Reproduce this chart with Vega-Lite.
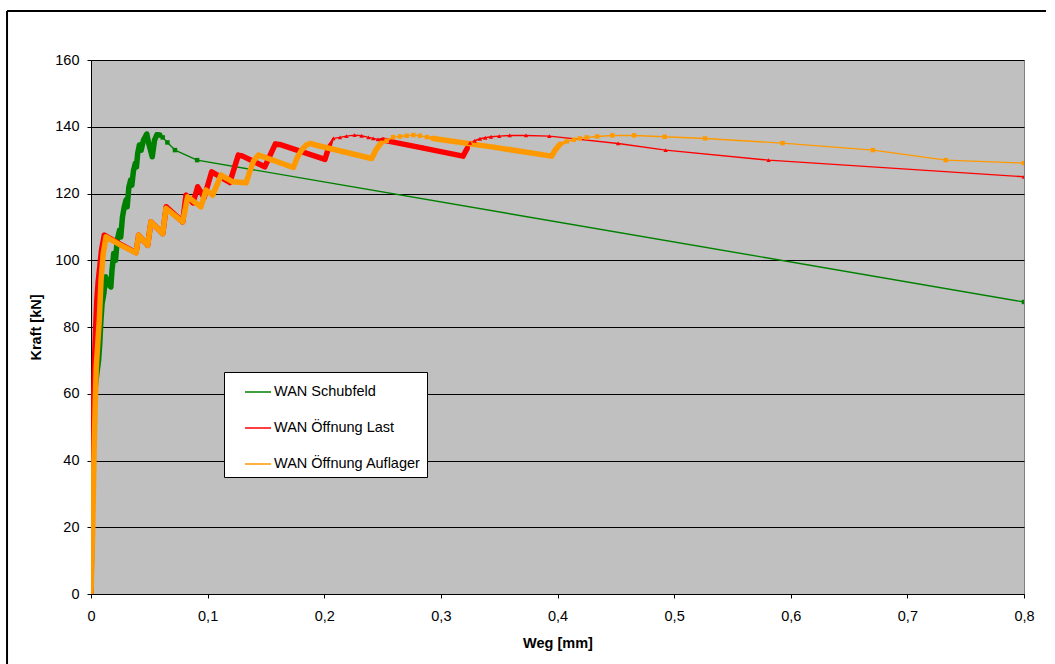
{
  "$schema": "https://vega.github.io/schema/vega-lite/v6.json",
  "width": 933,
  "height": 534,
  "autosize": {"type": "none"},
  "padding": {"left": 91, "top": 60, "right": 31, "bottom": 70},
  "background": "white",
  "config": {
    "font": "Liberation Sans",
    "view": {"fill": "#C0C0C0", "stroke": "#808080", "strokeWidth": 1},
    "axis": {
      "labelFontSize": 14.5,
      "labelColor": "black",
      "labelFlush": false,
      "titleFontSize": 14.5,
      "titleFontWeight": "bold",
      "titleColor": "black",
      "domainColor": "black",
      "domainWidth": 1,
      "tickColor": "black",
      "tickSize": 4,
      "tickWidth": 1
    }
  },
  "datasets": {
    "kurven": [
      {"Reihe": "WAN Schubfeld", "i": 1, "Weg": 0, "Kraft": 0, "dicht": 1},
      {"Reihe": "WAN Schubfeld", "i": 2, "Weg": 0.001, "Kraft": 30, "dicht": 1},
      {"Reihe": "WAN Schubfeld", "i": 3, "Weg": 0.002, "Kraft": 50, "dicht": 1},
      {"Reihe": "WAN Schubfeld", "i": 4, "Weg": 0.003, "Kraft": 60, "dicht": 1},
      {"Reihe": "WAN Schubfeld", "i": 5, "Weg": 0.005, "Kraft": 66, "dicht": 1},
      {"Reihe": "WAN Schubfeld", "i": 6, "Weg": 0.0065, "Kraft": 70, "dicht": 1},
      {"Reihe": "WAN Schubfeld", "i": 7, "Weg": 0.0075, "Kraft": 75, "dicht": 1},
      {"Reihe": "WAN Schubfeld", "i": 8, "Weg": 0.0085, "Kraft": 82, "dicht": 1},
      {"Reihe": "WAN Schubfeld", "i": 9, "Weg": 0.0095, "Kraft": 87, "dicht": 1},
      {"Reihe": "WAN Schubfeld", "i": 10, "Weg": 0.011, "Kraft": 90, "dicht": 1},
      {"Reihe": "WAN Schubfeld", "i": 11, "Weg": 0.0125, "Kraft": 95, "dicht": 1},
      {"Reihe": "WAN Schubfeld", "i": 12, "Weg": 0.0145, "Kraft": 93, "dicht": 1},
      {"Reihe": "WAN Schubfeld", "i": 13, "Weg": 0.017, "Kraft": 92, "dicht": 1},
      {"Reihe": "WAN Schubfeld", "i": 14, "Weg": 0.018, "Kraft": 97, "dicht": 1},
      {"Reihe": "WAN Schubfeld", "i": 15, "Weg": 0.0195, "Kraft": 102, "dicht": 1},
      {"Reihe": "WAN Schubfeld", "i": 16, "Weg": 0.021, "Kraft": 100, "dicht": 1},
      {"Reihe": "WAN Schubfeld", "i": 17, "Weg": 0.0225, "Kraft": 106, "dicht": 1},
      {"Reihe": "WAN Schubfeld", "i": 18, "Weg": 0.0245, "Kraft": 109, "dicht": 1},
      {"Reihe": "WAN Schubfeld", "i": 19, "Weg": 0.0255, "Kraft": 107, "dicht": 1},
      {"Reihe": "WAN Schubfeld", "i": 20, "Weg": 0.027, "Kraft": 113, "dicht": 1},
      {"Reihe": "WAN Schubfeld", "i": 21, "Weg": 0.0285, "Kraft": 116, "dicht": 1},
      {"Reihe": "WAN Schubfeld", "i": 22, "Weg": 0.03, "Kraft": 118, "dicht": 1},
      {"Reihe": "WAN Schubfeld", "i": 23, "Weg": 0.031, "Kraft": 116, "dicht": 1},
      {"Reihe": "WAN Schubfeld", "i": 24, "Weg": 0.0325, "Kraft": 122, "dicht": 1},
      {"Reihe": "WAN Schubfeld", "i": 25, "Weg": 0.034, "Kraft": 124, "dicht": 1},
      {"Reihe": "WAN Schubfeld", "i": 26, "Weg": 0.035, "Kraft": 122.5, "dicht": 1},
      {"Reihe": "WAN Schubfeld", "i": 27, "Weg": 0.0365, "Kraft": 127, "dicht": 1},
      {"Reihe": "WAN Schubfeld", "i": 28, "Weg": 0.038, "Kraft": 129, "dicht": 1},
      {"Reihe": "WAN Schubfeld", "i": 29, "Weg": 0.039, "Kraft": 128, "dicht": 1},
      {"Reihe": "WAN Schubfeld", "i": 30, "Weg": 0.04, "Kraft": 132, "dicht": 1},
      {"Reihe": "WAN Schubfeld", "i": 31, "Weg": 0.0415, "Kraft": 134.5, "dicht": 1},
      {"Reihe": "WAN Schubfeld", "i": 32, "Weg": 0.043, "Kraft": 133, "dicht": 1},
      {"Reihe": "WAN Schubfeld", "i": 33, "Weg": 0.045, "Kraft": 136, "dicht": 1},
      {"Reihe": "WAN Schubfeld", "i": 34, "Weg": 0.0478, "Kraft": 137.8, "dicht": 1},
      {"Reihe": "WAN Schubfeld", "i": 35, "Weg": 0.0495, "Kraft": 135, "dicht": 1},
      {"Reihe": "WAN Schubfeld", "i": 36, "Weg": 0.051, "Kraft": 133, "dicht": 1},
      {"Reihe": "WAN Schubfeld", "i": 37, "Weg": 0.0525, "Kraft": 131, "dicht": 1},
      {"Reihe": "WAN Schubfeld", "i": 38, "Weg": 0.0545, "Kraft": 136, "dicht": 1},
      {"Reihe": "WAN Schubfeld", "i": 39, "Weg": 0.0565, "Kraft": 137.6, "dicht": 1},
      {"Reihe": "WAN Schubfeld", "i": 40, "Weg": 0.059, "Kraft": 137.5, "dicht": 1},
      {"Reihe": "WAN Schubfeld", "i": 41, "Weg": 0.0615, "Kraft": 136.8, "dicht": 0},
      {"Reihe": "WAN Schubfeld", "i": 42, "Weg": 0.0655, "Kraft": 135.3, "dicht": 0},
      {"Reihe": "WAN Schubfeld", "i": 43, "Weg": 0.072, "Kraft": 133, "dicht": 0},
      {"Reihe": "WAN Schubfeld", "i": 44, "Weg": 0.091, "Kraft": 130, "dicht": 0},
      {"Reihe": "WAN Schubfeld", "i": 45, "Weg": 0.8, "Kraft": 87.5, "dicht": 0},

      {"Reihe": "WAN Öffnung Last", "i": 101, "Weg": 0, "Kraft": 0, "dicht": 1},
      {"Reihe": "WAN Öffnung Last", "i": 102, "Weg": 0.001, "Kraft": 35, "dicht": 1},
      {"Reihe": "WAN Öffnung Last", "i": 103, "Weg": 0.002, "Kraft": 55, "dicht": 1},
      {"Reihe": "WAN Öffnung Last", "i": 104, "Weg": 0.003, "Kraft": 70, "dicht": 1},
      {"Reihe": "WAN Öffnung Last", "i": 105, "Weg": 0.004, "Kraft": 80, "dicht": 1},
      {"Reihe": "WAN Öffnung Last", "i": 106, "Weg": 0.005, "Kraft": 88, "dicht": 1},
      {"Reihe": "WAN Öffnung Last", "i": 107, "Weg": 0.006, "Kraft": 93, "dicht": 1},
      {"Reihe": "WAN Öffnung Last", "i": 108, "Weg": 0.0075, "Kraft": 98, "dicht": 1},
      {"Reihe": "WAN Öffnung Last", "i": 109, "Weg": 0.009, "Kraft": 103, "dicht": 1},
      {"Reihe": "WAN Öffnung Last", "i": 110, "Weg": 0.0114, "Kraft": 107.5, "dicht": 1},
      {"Reihe": "WAN Öffnung Last", "i": 111, "Weg": 0.025, "Kraft": 104.8, "dicht": 1},
      {"Reihe": "WAN Öffnung Last", "i": 112, "Weg": 0.0386, "Kraft": 102.3, "dicht": 1},
      {"Reihe": "WAN Öffnung Last", "i": 113, "Weg": 0.0409, "Kraft": 107.5, "dicht": 1},
      {"Reihe": "WAN Öffnung Last", "i": 114, "Weg": 0.0486, "Kraft": 104.5, "dicht": 1},
      {"Reihe": "WAN Öffnung Last", "i": 115, "Weg": 0.0514, "Kraft": 111.5, "dicht": 1},
      {"Reihe": "WAN Öffnung Last", "i": 116, "Weg": 0.0615, "Kraft": 108, "dicht": 1},
      {"Reihe": "WAN Öffnung Last", "i": 117, "Weg": 0.0645, "Kraft": 116, "dicht": 1},
      {"Reihe": "WAN Öffnung Last", "i": 118, "Weg": 0.0786, "Kraft": 111.5, "dicht": 1},
      {"Reihe": "WAN Öffnung Last", "i": 119, "Weg": 0.0815, "Kraft": 119.5, "dicht": 1},
      {"Reihe": "WAN Öffnung Last", "i": 120, "Weg": 0.0875, "Kraft": 117.2, "dicht": 1},
      {"Reihe": "WAN Öffnung Last", "i": 121, "Weg": 0.0915, "Kraft": 122, "dicht": 1},
      {"Reihe": "WAN Öffnung Last", "i": 122, "Weg": 0.097, "Kraft": 118.8, "dicht": 1},
      {"Reihe": "WAN Öffnung Last", "i": 123, "Weg": 0.1035, "Kraft": 126.5, "dicht": 1},
      {"Reihe": "WAN Öffnung Last", "i": 124, "Weg": 0.119, "Kraft": 123.3, "dicht": 1},
      {"Reihe": "WAN Öffnung Last", "i": 125, "Weg": 0.1263, "Kraft": 131.5, "dicht": 1},
      {"Reihe": "WAN Öffnung Last", "i": 126, "Weg": 0.13, "Kraft": 131.2, "dicht": 1},
      {"Reihe": "WAN Öffnung Last", "i": 127, "Weg": 0.149, "Kraft": 128, "dicht": 1},
      {"Reihe": "WAN Öffnung Last", "i": 128, "Weg": 0.158, "Kraft": 134.8, "dicht": 1},
      {"Reihe": "WAN Öffnung Last", "i": 129, "Weg": 0.163, "Kraft": 134.6, "dicht": 1},
      {"Reihe": "WAN Öffnung Last", "i": 130, "Weg": 0.2006, "Kraft": 130.2, "dicht": 1},
      {"Reihe": "WAN Öffnung Last", "i": 131, "Weg": 0.2035, "Kraft": 133.5, "dicht": 1},
      {"Reihe": "WAN Öffnung Last", "i": 132, "Weg": 0.2078, "Kraft": 136.5, "dicht": 0},
      {"Reihe": "WAN Öffnung Last", "i": 133, "Weg": 0.2135, "Kraft": 136.8, "dicht": 0},
      {"Reihe": "WAN Öffnung Last", "i": 134, "Weg": 0.219, "Kraft": 137.2, "dicht": 0},
      {"Reihe": "WAN Öffnung Last", "i": 135, "Weg": 0.226, "Kraft": 137.5, "dicht": 0},
      {"Reihe": "WAN Öffnung Last", "i": 136, "Weg": 0.232, "Kraft": 137.3, "dicht": 0},
      {"Reihe": "WAN Öffnung Last", "i": 137, "Weg": 0.238, "Kraft": 136.8, "dicht": 0},
      {"Reihe": "WAN Öffnung Last", "i": 138, "Weg": 0.242, "Kraft": 136.5, "dicht": 0},
      {"Reihe": "WAN Öffnung Last", "i": 139, "Weg": 0.246, "Kraft": 136.2, "dicht": 0},
      {"Reihe": "WAN Öffnung Last", "i": 140, "Weg": 0.2506, "Kraft": 136, "dicht": 1},
      {"Reihe": "WAN Öffnung Last", "i": 141, "Weg": 0.285, "Kraft": 133.6, "dicht": 1},
      {"Reihe": "WAN Öffnung Last", "i": 142, "Weg": 0.319, "Kraft": 131.2, "dicht": 1},
      {"Reihe": "WAN Öffnung Last", "i": 143, "Weg": 0.3225, "Kraft": 133.5, "dicht": 1},
      {"Reihe": "WAN Öffnung Last", "i": 144, "Weg": 0.325, "Kraft": 135.2, "dicht": 0},
      {"Reihe": "WAN Öffnung Last", "i": 145, "Weg": 0.329, "Kraft": 135.8, "dicht": 0},
      {"Reihe": "WAN Öffnung Last", "i": 146, "Weg": 0.3335, "Kraft": 136.4, "dicht": 0},
      {"Reihe": "WAN Öffnung Last", "i": 147, "Weg": 0.338, "Kraft": 136.7, "dicht": 0},
      {"Reihe": "WAN Öffnung Last", "i": 148, "Weg": 0.343, "Kraft": 137, "dicht": 0},
      {"Reihe": "WAN Öffnung Last", "i": 149, "Weg": 0.35, "Kraft": 137.2, "dicht": 0},
      {"Reihe": "WAN Öffnung Last", "i": 150, "Weg": 0.359, "Kraft": 137.4, "dicht": 0},
      {"Reihe": "WAN Öffnung Last", "i": 151, "Weg": 0.373, "Kraft": 137.4, "dicht": 0},
      {"Reihe": "WAN Öffnung Last", "i": 152, "Weg": 0.393, "Kraft": 137.2, "dicht": 0},
      {"Reihe": "WAN Öffnung Last", "i": 153, "Weg": 0.452, "Kraft": 135, "dicht": 0},
      {"Reihe": "WAN Öffnung Last", "i": 154, "Weg": 0.4927, "Kraft": 133, "dicht": 0},
      {"Reihe": "WAN Öffnung Last", "i": 155, "Weg": 0.581, "Kraft": 130, "dicht": 0},
      {"Reihe": "WAN Öffnung Last", "i": 156, "Weg": 0.8, "Kraft": 125, "dicht": 0},

      {"Reihe": "WAN Öffnung Auflager", "i": 201, "Weg": 0, "Kraft": 0, "dicht": 1},
      {"Reihe": "WAN Öffnung Auflager", "i": 202, "Weg": 0.0015, "Kraft": 20, "dicht": 1},
      {"Reihe": "WAN Öffnung Auflager", "i": 203, "Weg": 0.0025, "Kraft": 40, "dicht": 1},
      {"Reihe": "WAN Öffnung Auflager", "i": 204, "Weg": 0.0035, "Kraft": 55, "dicht": 1},
      {"Reihe": "WAN Öffnung Auflager", "i": 205, "Weg": 0.0045, "Kraft": 68, "dicht": 1},
      {"Reihe": "WAN Öffnung Auflager", "i": 206, "Weg": 0.0071, "Kraft": 82, "dicht": 1},
      {"Reihe": "WAN Öffnung Auflager", "i": 207, "Weg": 0.0086, "Kraft": 94, "dicht": 1},
      {"Reihe": "WAN Öffnung Auflager", "i": 208, "Weg": 0.0105, "Kraft": 102, "dicht": 1},
      {"Reihe": "WAN Öffnung Auflager", "i": 209, "Weg": 0.0129, "Kraft": 107, "dicht": 1},
      {"Reihe": "WAN Öffnung Auflager", "i": 210, "Weg": 0.025, "Kraft": 104.6, "dicht": 1},
      {"Reihe": "WAN Öffnung Auflager", "i": 211, "Weg": 0.0386, "Kraft": 102.2, "dicht": 1},
      {"Reihe": "WAN Öffnung Auflager", "i": 212, "Weg": 0.0409, "Kraft": 107.5, "dicht": 1},
      {"Reihe": "WAN Öffnung Auflager", "i": 213, "Weg": 0.0486, "Kraft": 104.5, "dicht": 1},
      {"Reihe": "WAN Öffnung Auflager", "i": 214, "Weg": 0.0514, "Kraft": 111.5, "dicht": 1},
      {"Reihe": "WAN Öffnung Auflager", "i": 215, "Weg": 0.0615, "Kraft": 108, "dicht": 1},
      {"Reihe": "WAN Öffnung Auflager", "i": 216, "Weg": 0.0643, "Kraft": 115.5, "dicht": 1},
      {"Reihe": "WAN Öffnung Auflager", "i": 217, "Weg": 0.0786, "Kraft": 111.5, "dicht": 1},
      {"Reihe": "WAN Öffnung Auflager", "i": 218, "Weg": 0.0829, "Kraft": 119, "dicht": 1},
      {"Reihe": "WAN Öffnung Auflager", "i": 219, "Weg": 0.0943, "Kraft": 116, "dicht": 1},
      {"Reihe": "WAN Öffnung Auflager", "i": 220, "Weg": 0.0986, "Kraft": 121, "dicht": 1},
      {"Reihe": "WAN Öffnung Auflager", "i": 221, "Weg": 0.1043, "Kraft": 119.5, "dicht": 1},
      {"Reihe": "WAN Öffnung Auflager", "i": 222, "Weg": 0.1115, "Kraft": 125.5, "dicht": 1},
      {"Reihe": "WAN Öffnung Auflager", "i": 223, "Weg": 0.1215, "Kraft": 123.5, "dicht": 1},
      {"Reihe": "WAN Öffnung Auflager", "i": 224, "Weg": 0.133, "Kraft": 123.2, "dicht": 1},
      {"Reihe": "WAN Öffnung Auflager", "i": 225, "Weg": 0.136, "Kraft": 126.5, "dicht": 1},
      {"Reihe": "WAN Öffnung Auflager", "i": 226, "Weg": 0.1395, "Kraft": 129.8, "dicht": 1},
      {"Reihe": "WAN Öffnung Auflager", "i": 227, "Weg": 0.1435, "Kraft": 131.5, "dicht": 1},
      {"Reihe": "WAN Öffnung Auflager", "i": 228, "Weg": 0.148, "Kraft": 131, "dicht": 1},
      {"Reihe": "WAN Öffnung Auflager", "i": 229, "Weg": 0.1735, "Kraft": 127.8, "dicht": 1},
      {"Reihe": "WAN Öffnung Auflager", "i": 230, "Weg": 0.1765, "Kraft": 130.5, "dicht": 1},
      {"Reihe": "WAN Öffnung Auflager", "i": 231, "Weg": 0.1805, "Kraft": 133, "dicht": 1},
      {"Reihe": "WAN Öffnung Auflager", "i": 232, "Weg": 0.1845, "Kraft": 134.5, "dicht": 1},
      {"Reihe": "WAN Öffnung Auflager", "i": 233, "Weg": 0.1878, "Kraft": 135, "dicht": 1},
      {"Reihe": "WAN Öffnung Auflager", "i": 234, "Weg": 0.195, "Kraft": 134.3, "dicht": 1},
      {"Reihe": "WAN Öffnung Auflager", "i": 235, "Weg": 0.2407, "Kraft": 130.5, "dicht": 1},
      {"Reihe": "WAN Öffnung Auflager", "i": 236, "Weg": 0.2445, "Kraft": 133.2, "dicht": 1},
      {"Reihe": "WAN Öffnung Auflager", "i": 237, "Weg": 0.2485, "Kraft": 135, "dicht": 1},
      {"Reihe": "WAN Öffnung Auflager", "i": 238, "Weg": 0.2535, "Kraft": 135.8, "dicht": 0},
      {"Reihe": "WAN Öffnung Auflager", "i": 239, "Weg": 0.259, "Kraft": 136.9, "dicht": 0},
      {"Reihe": "WAN Öffnung Auflager", "i": 240, "Weg": 0.265, "Kraft": 137.1, "dicht": 0},
      {"Reihe": "WAN Öffnung Auflager", "i": 241, "Weg": 0.2707, "Kraft": 137.3, "dicht": 0},
      {"Reihe": "WAN Öffnung Auflager", "i": 242, "Weg": 0.2764, "Kraft": 137.5, "dicht": 0},
      {"Reihe": "WAN Öffnung Auflager", "i": 243, "Weg": 0.282, "Kraft": 137.3, "dicht": 0},
      {"Reihe": "WAN Öffnung Auflager", "i": 244, "Weg": 0.288, "Kraft": 136.9, "dicht": 0},
      {"Reihe": "WAN Öffnung Auflager", "i": 245, "Weg": 0.2935, "Kraft": 136.5, "dicht": 1},
      {"Reihe": "WAN Öffnung Auflager", "i": 246, "Weg": 0.345, "Kraft": 133.9, "dicht": 1},
      {"Reihe": "WAN Öffnung Auflager", "i": 247, "Weg": 0.395, "Kraft": 131.2, "dicht": 1},
      {"Reihe": "WAN Öffnung Auflager", "i": 248, "Weg": 0.398, "Kraft": 133, "dicht": 1},
      {"Reihe": "WAN Öffnung Auflager", "i": 249, "Weg": 0.402, "Kraft": 134.7, "dicht": 1},
      {"Reihe": "WAN Öffnung Auflager", "i": 250, "Weg": 0.408, "Kraft": 135.6, "dicht": 0},
      {"Reihe": "WAN Öffnung Auflager", "i": 251, "Weg": 0.414, "Kraft": 136.1, "dicht": 0},
      {"Reihe": "WAN Öffnung Auflager", "i": 252, "Weg": 0.419, "Kraft": 136.5, "dicht": 0},
      {"Reihe": "WAN Öffnung Auflager", "i": 253, "Weg": 0.425, "Kraft": 136.8, "dicht": 0},
      {"Reihe": "WAN Öffnung Auflager", "i": 254, "Weg": 0.434, "Kraft": 137.1, "dicht": 0},
      {"Reihe": "WAN Öffnung Auflager", "i": 255, "Weg": 0.447, "Kraft": 137.4, "dicht": 0},
      {"Reihe": "WAN Öffnung Auflager", "i": 256, "Weg": 0.4656, "Kraft": 137.4, "dicht": 0},
      {"Reihe": "WAN Öffnung Auflager", "i": 257, "Weg": 0.492, "Kraft": 137, "dicht": 0},
      {"Reihe": "WAN Öffnung Auflager", "i": 258, "Weg": 0.5265, "Kraft": 136.5, "dicht": 0},
      {"Reihe": "WAN Öffnung Auflager", "i": 259, "Weg": 0.593, "Kraft": 135.1, "dicht": 0},
      {"Reihe": "WAN Öffnung Auflager", "i": 260, "Weg": 0.6705, "Kraft": 133, "dicht": 0},
      {"Reihe": "WAN Öffnung Auflager", "i": 261, "Weg": 0.733, "Kraft": 130, "dicht": 0},
      {"Reihe": "WAN Öffnung Auflager", "i": 262, "Weg": 0.8, "Kraft": 129.1, "dicht": 0}
    ]
  },
  "layer": [
    {
      "data": {"name": "kurven"},
      "mark": {"type": "trail", "clip": true},
      "encoding": {
        "x": {
          "field": "Weg",
          "type": "quantitative",
          "scale": {"domain": [0, 0.8], "nice": false, "zero": false},
          "axis": {
            "title": "Weg [mm]",
            "values": [0, 0.1, 0.2, 0.3, 0.4, 0.5, 0.6, 0.7, 0.8],
            "labelExpr": "datum.value == 0 ? '0' : replace(format(datum.value, '.1f'), '.', ',')",
            "grid": false,
            "labelPadding": 11,
            "titlePadding": 14
          }
        },
        "y": {
          "field": "Kraft",
          "type": "quantitative",
          "scale": {"domain": [0, 160], "nice": false, "zero": false},
          "axis": {
            "title": "Kraft [kN]",
            "values": [0, 20, 40, 60, 80, 100, 120, 140, 160],
            "grid": true,
            "gridColor": "black",
            "gridWidth": 1,
            "gridOpacity": 1,
            "labelPadding": 8,
            "titlePadding": 11
          }
        },
        "color": {
          "field": "Reihe",
          "type": "nominal",
          "scale": {
            "domain": ["WAN Schubfeld", "WAN Öffnung Last", "WAN Öffnung Auflager"],
            "range": ["#008000", "#FF0000", "#FF9900"]
          },
          "legend": {
            "title": null,
            "orient": "none",
            "legendX": 133,
            "legendY": 312,
            "fillColor": "white",
            "strokeColor": "black",
            "padding": 6,
            "labelFontSize": 14.5,
            "labelColor": "black",
            "labelExpr": "datum.label + '\u00a0\u00a0\u00a0'",
            "symbolType": "stroke",
            "symbolSize": 676,
            "symbolStrokeWidth": 1.5,
            "symbolOffset": 14,
            "labelOffset": 2,
            "rowPadding": 15
          }
        },
        "size": {
          "field": "dicht",
          "type": "quantitative",
          "scale": {"domain": [0, 1], "range": [1.4, 5.5]},
          "legend": null
        },
        "order": {"field": "i", "type": "quantitative"}
      }
    },
    {
      "data": {"name": "kurven"},
      "transform": [{"filter": "datum.dicht == 0"}],
      "mark": {"type": "point", "filled": true, "opacity": 1, "clip": true},
      "encoding": {
        "x": {"field": "Weg", "type": "quantitative"},
        "y": {"field": "Kraft", "type": "quantitative"},
        "color": {"field": "Reihe", "type": "nominal", "legend": null},
        "shape": {
          "condition": {"test": "datum.Reihe == 'WAN Öffnung Last'", "value": "triangle-up"},
          "value": "square"
        },
        "size": {"value": 20}
      }
    },
    {
      "data": {"values": [{"Rand": "oben"}]},
      "mark": {"type": "rule", "color": "black", "strokeWidth": 2, "clip": false},
      "encoding": {
        "x": {"datum": -0.072, "type": "quantitative"},
        "x2": {"datum": 0.8189},
        "y": {"datum": 174.7, "type": "quantitative"}
      }
    },
    {
      "data": {"values": [{"Rand": "links"}]},
      "mark": {"type": "rule", "color": "black", "strokeWidth": 2, "clip": false},
      "encoding": {
        "x": {"datum": -0.072, "type": "quantitative"},
        "y": {"datum": 174.7, "type": "quantitative"},
        "y2": {"datum": -26}
      }
    }
  ]
}
